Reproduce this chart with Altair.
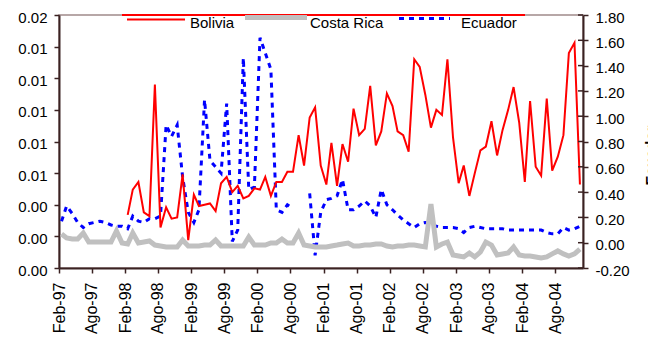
import altair as alt
import pandas as pd

# ---------------------------------------------------------------------------
# Monthly series, Feb-1997 .. Dec-2004 (95 months)
# ---------------------------------------------------------------------------
months = pd.date_range("1997-02-01", "2004-12-01", freq="MS")
month_mid = (months + pd.Timedelta(days=14)).strftime("%Y-%m-%d").tolist()

# Bolivia (right axis) - series begins in Feb-98
bolivia = [
    None, None, None, None, None, None, None, None, None, None, None, None,
    0.22, 0.42, 0.48, 0.24, 0.21, 1.25, 0.12, 0.28, 0.19, 0.20, 0.54, 0.02,
    0.38, 0.29, 0.30, 0.31, 0.25, 0.47, 0.52, 0.40, 0.45, 0.35, 0.37, 0.43,
    0.42, 0.52, 0.37, 0.48, 0.48, 0.56, 0.56, 0.85, 0.61, 0.99, 1.07, 0.61,
    0.46, 0.79, 0.45, 0.78, 0.64, 1.06, 0.85, 0.90, 1.24, 0.77, 0.88, 1.18,
    1.08, 0.88, 0.85, 0.72, 1.45, 1.39, 1.17, 0.91, 1.05, 1.01, 1.45, 0.83,
    0.47, 0.61, 0.37, 0.55, 0.73, 0.76, 0.96, 0.69, 0.89, 1.05, 1.23, 0.95,
    0.48, 1.12, 0.60, 0.53, 1.14, 0.57, 0.68, 0.85, 1.50, 1.58, 0.46,
]

# Costa Rica (left axis)
costa_rica = [
    0.00215, 0.00190, 0.00183, 0.00183, 0.00221, 0.00164, 0.00164, 0.00164, 0.00164, 0.00164, 0.00234, 0.00158,
    0.00152, 0.00221, 0.00158, 0.00164, 0.00171, 0.00145, 0.00139, 0.00133, 0.00133, 0.00133, 0.00177, 0.00139,
    0.00139, 0.00139, 0.00145, 0.00145, 0.00177, 0.00139, 0.00139, 0.00139, 0.00139, 0.00139, 0.00196, 0.00145,
    0.00145, 0.00145, 0.00158, 0.00158, 0.00183, 0.00158, 0.00158, 0.00221, 0.00145, 0.00139, 0.00133, 0.00133,
    0.00133, 0.00139, 0.00145, 0.00152, 0.00158, 0.00139, 0.00139, 0.00145, 0.00145, 0.00152, 0.00152, 0.00139,
    0.00133, 0.00139, 0.00139, 0.00145, 0.00145, 0.00139, 0.00133, 0.00405, 0.00133, 0.00152, 0.00164, 0.00082,
    0.00076, 0.00070, 0.00095, 0.00070, 0.00101, 0.00164, 0.00145, 0.00082, 0.00089, 0.00095, 0.00133, 0.00082,
    0.00076, 0.00076, 0.00070, 0.00063, 0.00070, 0.00089, 0.00108, 0.00089, 0.00076, 0.00089, 0.00120,
]

# Ecuador (right axis) - two months without data in 2000
ecuador = [
    0.17, 0.29, 0.23, 0.16, 0.12, 0.15, 0.16, 0.17, 0.16, 0.14, 0.13, 0.13,
    0.11, 0.21, 0.17, 0.16, 0.19, 0.19, 0.21, 0.93, 0.84, 0.93, 0.52, 0.24,
    0.16, 0.26, 1.13, 0.65, 0.60, 0.55, 1.10, 0.01, 0.10, 1.46, 0.42, 0.44,
    1.62, 1.50, 1.37, 0.26, 0.24, 0.30, 0.27, None, None, 0.39, -0.10, 0.24,
    0.34, 0.35, 0.37, 0.50, 0.26, 0.26, 0.29, 0.33, 0.29, 0.20, 0.42, 0.30,
    0.26, 0.22, 0.18, 0.15, 0.12, 0.15, 0.16, 0.15, 0.13, 0.12, 0.12, 0.12,
    0.11, 0.08, 0.12, 0.13, 0.12, 0.11, 0.11, 0.11, 0.11, 0.10, 0.10, 0.10,
    0.10, 0.10, 0.10, 0.10, 0.08, 0.07, 0.07, 0.12, 0.10, 0.11, 0.13,
]

series_names = ["Bolivia", "Costa Rica", "Ecuador"]
left_ticks = [0.0, 0.002, 0.004, 0.006, 0.008, 0.010, 0.012, 0.014, 0.016]
right_ticks = [-0.2, 0.0, 0.2, 0.4, 0.6, 0.8, 1.0, 1.2, 1.4, 1.6, 1.8]
x_ticks = [(y, m) for y in range(1997, 2005) for m in (2, 8)]

# ---------------------------------------------------------------------------
# Styling
# ---------------------------------------------------------------------------
W, H = 524, 253
FONT = "Liberation Sans"
RED, GRAY, BLUE = "#ff0000", "#c0c0c0", "#0000ff"
AXIS_LINE = "#3a2222"

src = pd.DataFrame({
    "month": month_mid,
    "bolivia": bolivia,
    "costa_rica": costa_rica,
    "ecuador": ecuador,
})

x_enc = alt.X(
    "month:T",
    title=None,
    scale=alt.Scale(
        type="utc",
        domain=[alt.DateTime(year=1997, month=2, date=1, utc=True),
                alt.DateTime(year=2005, month=1, date=1, utc=True)],
    ),
    axis=alt.Axis(
        values=[alt.DateTime(year=y, month=m, date=1, utc=True) for y, m in x_ticks],
        labelExpr="(utcFormat(datum.value, '%m') == '02' ? 'Feb-' : 'Ago-') + utcFormat(datum.value, '%y')",
        labelAngle=270, labelFont=FONT, labelFontSize=16, labelColor="black",
        labelPadding=9, tickSize=5, tickColor=AXIS_LINE, tickWidth=1.5,
        domainColor=AXIS_LINE, domainWidth=2, grid=False,
    ),
)

left_scale = alt.Scale(domain=[0, 0.016], nice=False, zero=False)
right_scale = alt.Scale(domain=[-0.2, 1.8], nice=False, zero=False)

left_axis = alt.Axis(
    orient="left", values=left_ticks, format=".2f", title=None, grid=False,
    labelFont=FONT, labelFontSize=15, labelColor="black", labelPadding=7, labelOffset=2,
    tickSize=5, tickColor=AXIS_LINE, tickWidth=1.5,
    domainColor=AXIS_LINE, domainWidth=2,
)
right_axis = alt.Axis(
    orient="right", values=right_ticks, title="Ecuador", grid=False,
    labelExpr="replace(format(datum.value, '.2f'), '\u2212', '-')",
    labelFont=FONT, labelFontSize=15, labelColor="black", labelPadding=7, labelOffset=2,
    tickSize=5, tickColor=AXIS_LINE, tickWidth=1.5,
    domainColor=AXIS_LINE, domainWidth=2,
    titleFont=FONT, titleFontSize=15, titleFontWeight="bold", titleColor="black",
    titleAngle=270, titleAlign="left", titleBaseline="top", titleX=60, titleY=170,
)

base = alt.Chart(src).encode(x=x_enc)

ecuador_line = base.mark_line(
    color=BLUE, strokeWidth=3, strokeDash=[5, 5], invalid="break-paths-filter-domains"
).encode(y=alt.Y("ecuador:Q", scale=right_scale, axis=right_axis))

costa_line = base.mark_line(
    color=GRAY, strokeWidth=5, invalid="break-paths-filter-domains"
).encode(y=alt.Y("costa_rica:Q", scale=left_scale, axis=left_axis))

bolivia_line = base.mark_line(
    color=RED, strokeWidth=2, invalid="break-paths-filter-domains"
).encode(y=alt.Y("bolivia:Q", scale=right_scale, axis=None))

# inner half of the right-axis ticks
inner_ticks = alt.Chart(pd.DataFrame({"v": right_ticks})).mark_rule(
    color=AXIS_LINE, strokeWidth=1.5
).encode(
    y=alt.Y("v:Q", scale=right_scale, axis=None),
    x=alt.value(W - 5), x2=alt.value(W),
)

# red edge along the top of the legend box
top_edge = alt.Chart(pd.DataFrame({"a": [0]})).mark_rule(
    color=RED, strokeWidth=2
).encode(x=alt.value(63), x2=alt.value(466), y=alt.value(0))

# legend: sample line + label for each series
legend_layout = {
    "Bolivia": dict(x0=68, x1=126, y=4.5, tx=131, color=RED, width=2, dash=[1, 0]),
    "Costa Rica": dict(x0=186, x1=248, y=2.5, tx=251, color=GRAY, width=5, dash=[1, 0]),
    "Ecuador": dict(x0=340, x1=391, y=3.5, tx=402, color=BLUE, width=3, dash=[5, 5]),
}
legend_layers = []
for name in series_names:
    lay = legend_layout[name]
    one = alt.Chart(pd.DataFrame({"series": [name]}))
    legend_layers.append(
        one.mark_rule(color=lay["color"], strokeWidth=lay["width"], strokeDash=lay["dash"]).encode(
            x=alt.value(lay["x0"]), x2=alt.value(lay["x1"]), y=alt.value(lay["y"])
        )
    )
    legend_layers.append(
        one.mark_text(align="left", baseline="middle", font=FONT, fontSize=15, color="black").encode(
            text="series:N", x=alt.value(lay["tx"]), y=alt.value(7.5)
        )
    )

chart = alt.layer(
    ecuador_line, costa_line, bolivia_line, inner_ticks, top_edge, *legend_layers
).resolve_scale(
    y="independent"
).properties(
    width=W, height=H,
    autosize=alt.AutoSizeParams(type="none"),
    padding={"left": 59, "top": 15, "right": 65, "bottom": 75},
).configure_view(
    stroke="#a08a8a", strokeWidth=1.5
)

chart.save("out.html", embed_options={"renderer": "svg", "actions": False})
